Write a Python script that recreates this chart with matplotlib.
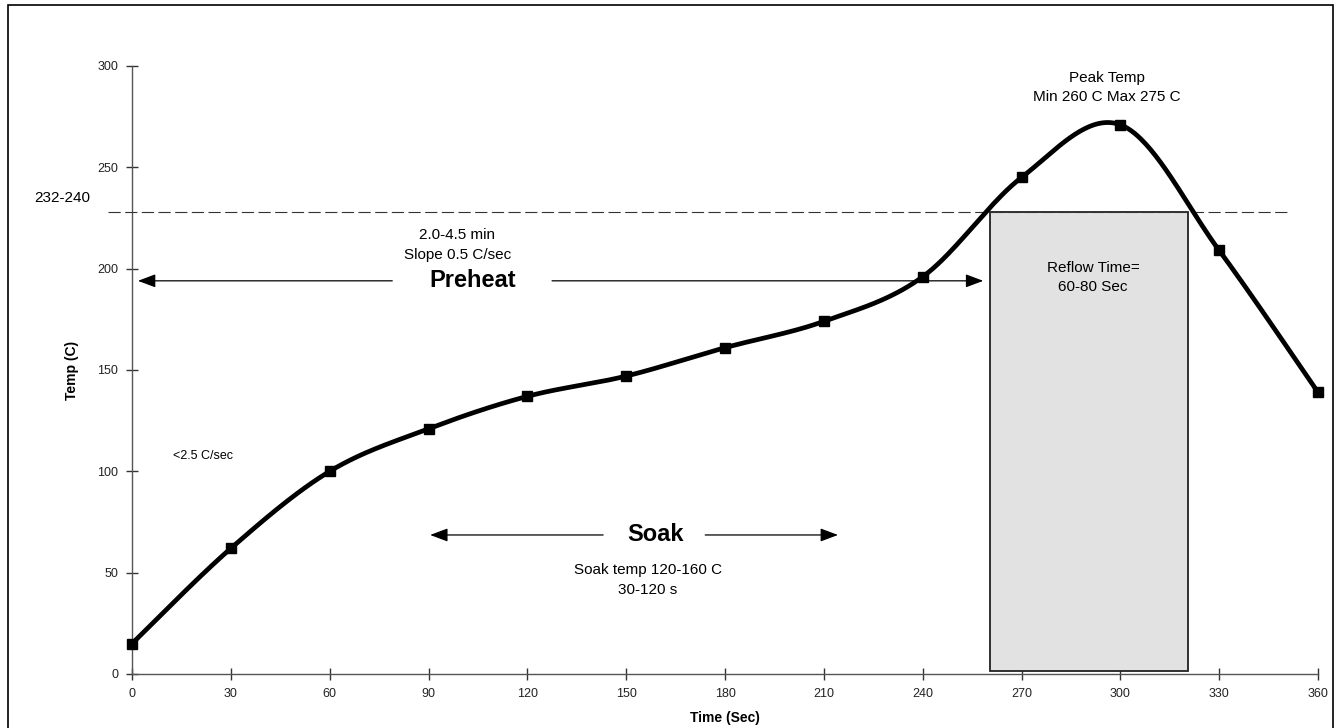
import numpy as np
import matplotlib
matplotlib.use("Agg")
import matplotlib.pyplot as plt
from matplotlib.patches import Rectangle

plt.rcParams['font.family'] = ['Liberation Sans', 'DejaVu Sans']

# Data
time_s = [0, 30, 60, 90, 120, 150, 180, 210, 240, 270, 300, 330, 360]
temp_c = [15, 62, 100, 121, 137, 147, 161, 174, 196, 245, 271, 209, 139]
x_ticks = [0, 30, 60, 90, 120, 150, 180, 210, 240, 270, 300, 330, 360]
y_ticks = [0, 50, 100, 150, 200, 250, 300]
liquidus_line = 228
reflow_start, reflow_end = 260.5, 320.5


def smooth(xs, ys, n=40):
    """Excel-style smoothed line (Bezier with Catmull-Rom control points)."""
    P = np.column_stack([xs, ys]).astype(float)
    out = []
    m = len(P)
    for i in range(m - 1):
        p0 = P[i - 1] if i > 0 else P[i]
        p1 = P[i]
        p2 = P[i + 1]
        p3 = P[i + 2] if i + 2 < m else P[i + 1]
        c1 = p1 + (p2 - p0) / 6.0
        c2 = p2 - (p3 - p1) / 6.0
        t = np.linspace(0, 1, n)[:, None]
        seg = ((1 - t) ** 3) * p1 + 3 * ((1 - t) ** 2) * t * c1 + 3 * (1 - t) * t ** 2 * c2 + t ** 3 * p2
        out.append(seg if i == 0 else seg[1:])
    return np.vstack(out)


fig = plt.figure(figsize=(13.35, 7.28), dpi=100)
ax = fig.add_axes([132 / 1335, 1 - 674 / 728, (1318 - 132) / 1335, (674 - 66) / 728])
ax.set_xlim(0, 360)
ax.set_ylim(0, 300)

# outer border
fig.add_artist(Rectangle((8 / 1335, -0.01), (1333 - 8) / 1335, 1 - 5 / 728 + 0.01,
                         transform=fig.transFigure, fill=False, edgecolor='black', lw=1.2))

# reflow box
ax.add_patch(Rectangle((reflow_start, 1.5), reflow_end - reflow_start, liquidus_line - 1.5,
                       facecolor='#e2e2e2', edgecolor='#222222', lw=1.3, zorder=2))

# dashed liquidus line
ax.plot([-7.3, 351.5], [liquidus_line, liquidus_line], color='#333333', lw=0.8,
        linestyle=(0, (11, 4)), clip_on=False, zorder=3)

# profile curve
curve = smooth(time_s, temp_c)
ax.plot(curve[:, 0], curve[:, 1], color='black', lw=3.4, zorder=5, solid_capstyle='round')
ax.plot(time_s, temp_c, linestyle='none', marker='s', markersize=7, color='black', zorder=6, clip_on=False)

# spines/ticks
for s in ['top', 'right']:
    ax.spines[s].set_visible(False)
for s in ['left', 'bottom']:
    ax.spines[s].set_color('#555555')
    ax.spines[s].set_linewidth(1.0)
ax.set_xticks(x_ticks)
ax.set_yticks(y_ticks)
ax.tick_params(direction='inout', length=8, width=1, color='#333333', labelsize=9,
               labelcolor='#222222')
ax.tick_params(axis='x', pad=6)
ax.tick_params(axis='y', pad=6)
ax.set_xlabel('Time (Sec)', fontsize=10, fontweight='bold', labelpad=8)
ax.set_ylabel('Temp (C)', fontsize=10, fontweight='bold', labelpad=13)

arrow_kw = dict(arrowstyle='-|>,head_length=0.72,head_width=0.27', lw=0.9, color='black',
                mutation_scale=15, shrinkA=0, shrinkB=0)

# Preheat
ax.text(103.4, 194, 'Preheat', fontsize=17, fontweight='bold', ha='center', va='center', zorder=7)
ax.annotate('', xy=(1.8, 194), xytext=(79, 194), arrowprops=arrow_kw)
ax.annotate('', xy=(258.4, 194), xytext=(127.5, 194), arrowprops=arrow_kw)
ax.text(98.7, 216.6, '2.0-4.5 min', fontsize=11, ha='center', va='center')
ax.text(98.7, 206.7, 'Slope 0.5 C/sec', fontsize=11, ha='center', va='center')

# Soak
ax.text(158.8, 69, 'Soak', fontsize=17, fontweight='bold', ha='center', va='center', zorder=7)
ax.annotate('', xy=(90.5, 68.6), xytext=(143, 68.6), arrowprops=arrow_kw)
ax.annotate('', xy=(214.3, 68.6), xytext=(174, 68.6), arrowprops=arrow_kw)
ax.text(156.5, 51.3, 'Soak temp 120-160 C', fontsize=11, ha='center', va='center')
ax.text(156.5, 41.4, '30-120 s', fontsize=11, ha='center', va='center')

# other annotations
ax.text(12.5, 107.6, '<2.5 C/sec', fontsize=9, ha='left', va='center')
ax.text(291.7, 200.3, 'Reflow Time=', fontsize=11, ha='center', va='center', zorder=7)
ax.text(291.7, 191, '60-80 Sec', fontsize=11, ha='center', va='center', zorder=7)
ax.text(296, 294, 'Peak Temp', fontsize=11, ha='center', va='center')
ax.text(296, 284.7, 'Min 260 C Max 275 C', fontsize=11, ha='center', va='center')
ax.text(-21.3, 234.9, '232-240', fontsize=11, ha='center', va='center', clip_on=False)

fig.savefig('out.png', dpi=100)
